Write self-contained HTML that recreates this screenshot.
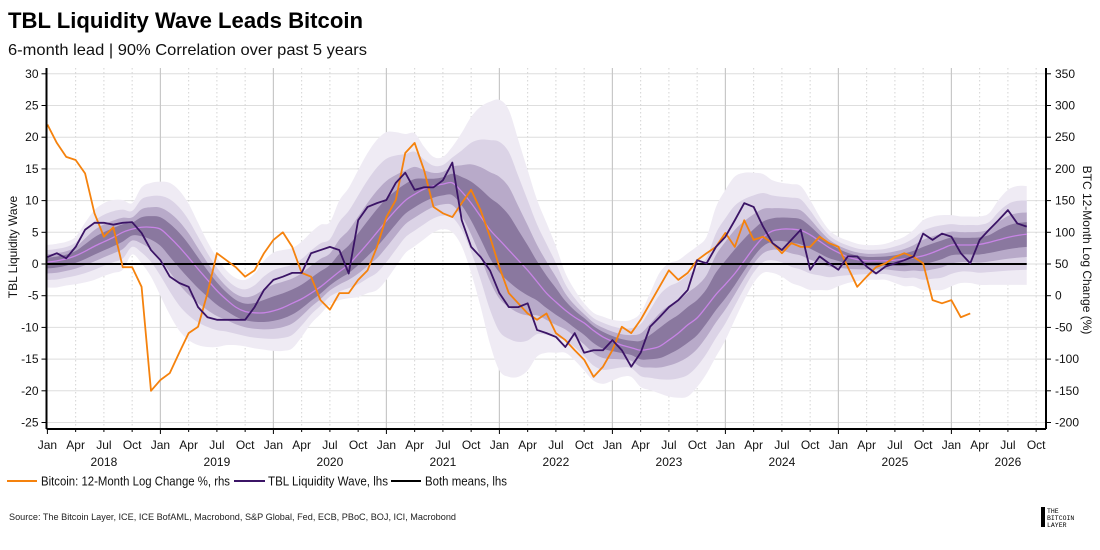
<!DOCTYPE html>
<html><head><meta charset="utf-8">
<style>
html,body{margin:0;padding:0;background:#fff;}
svg{display:block;font-family:"Liberation Sans",sans-serif;}
</style></head>
<body>
<svg id="chart" width="1100" height="550" viewBox="0 0 1100 550" xmlns="http://www.w3.org/2000/svg">
<rect width="1100" height="550" fill="#fff"/>
<text x="8" y="28" font-size="22" font-weight="bold" fill="#000" textLength="355" lengthAdjust="spacingAndGlyphs">TBL Liquidity Wave Leads Bitcoin</text>
<text x="8" y="55" font-size="16" fill="#111" textLength="359" lengthAdjust="spacingAndGlyphs">6-month lead | 90% Correlation over past 5 years</text>
<g id="grid"></g>
<g id="bands"></g>
<g id="series"></g>
<g id="axes"></g>
<text transform="translate(17,247) rotate(-90)" text-anchor="middle" font-size="12" fill="#111">TBL Liquidity Wave</text>
<text transform="translate(1083,250) rotate(90)" text-anchor="middle" font-size="12" fill="#111">BTC 12-Month Log Change (%)</text>
<g>
<line x1="7" y1="481" x2="37" y2="481" stroke="#f5820d" stroke-width="2"/>
<text x="41" y="485.5" font-size="12.5" fill="#111" textLength="189" lengthAdjust="spacingAndGlyphs">Bitcoin: 12-Month Log Change %, rhs</text>
<line x1="234" y1="481" x2="265" y2="481" stroke="#3b1466" stroke-width="2"/>
<text x="268" y="485.5" font-size="12.5" fill="#111" textLength="120" lengthAdjust="spacingAndGlyphs">TBL Liquidity Wave, lhs</text>
<line x1="391" y1="481" x2="421" y2="481" stroke="#000" stroke-width="2"/>
<text x="425" y="485.5" font-size="12.5" fill="#111" textLength="82" lengthAdjust="spacingAndGlyphs">Both means, lhs</text>
</g>
<text x="9" y="520" font-size="9.5" fill="#222" textLength="447" lengthAdjust="spacingAndGlyphs">Source: The Bitcoin Layer, ICE, ICE BofAML, Macrobond, S&amp;P Global, Fed, ECB, PBoC, BOJ, ICI, Macrobond</text>
<g>
<rect x="1041" y="507" width="4" height="20" fill="#000"/>
<text x="1047" y="513" font-size="6.5" font-family="Liberation Mono, monospace" fill="#000">THE</text>
<text x="1047" y="520" font-size="6.5" font-family="Liberation Mono, monospace" fill="#000">BITCOIN</text>
<text x="1047" y="527" font-size="6.5" font-family="Liberation Mono, monospace" fill="#000">LAYER</text>
</g>
</svg>
<script>
// ---- data (monthly, starting Jan 2018) ----
const monthLabels = ["Jan","Apr","Jul","Oct"];
const yearLabels = ["2018","2019","2020","2021","2022","2023","2024","2025","2026"];
const leftTicks = [30,25,20,15,10,5,0,-5,-10,-15,-20,-25];
const rightTicks = [350,300,250,200,150,100,50,0,-50,-100,-150,-200];
const btcStartMonth = 0;
const btcValues = [270,241,219,214,193,130,93,108,45,45,14,-150,
 -133,-122,-90,-59,-49,4,67,56,45,30,40,67,
 88,100,77,36,30,-7,-22,4,4,25,40,77,
 124,151,225,241,198,140,130,124,146,167,135,93,
 45,4,-12,-28,-38,-28,-59,-70,-86,-101,-128,-112,
 -86,-49,-59,-38,-12,14,40,25,36,56,67,77,
 99,77,119,88,93,83,67,83,77,77,93,83,
 77,45,14,30,45,51,61,67,61,51,-7,-12,
 -7,-34,-28];
const waveValues = [1.1,1.7,0.9,2.7,5.4,6.5,6.5,6.2,6.5,6.6,4.9,2.2,
 0.6,-2,-3,-3.6,-6.8,-8.4,-8.8,-8.8,-8.8,-8.8,-6.8,-4.1,
 -2.5,-2,-1.4,-1.4,1.7,2.2,2.7,2.2,-1.5,6.9,9,9.6,
 10.1,12.8,14.4,11.7,12.1,12.1,13.2,16,6.9,2.7,1.1,-1,
 -4.6,-6.8,-6.8,-6.2,-10.4,-10.9,-11.5,-13.1,-10.9,-14,-13.6,-13.6,
 -12,-13.6,-16.2,-14,-9.9,-8.4,-6.8,-5.7,-4.1,0.6,0.1,2.7,
 4.3,6.9,9.6,9,5.9,3.3,2.2,3.8,5.4,-0.9,1.2,0.1,
 -0.9,1.2,1.2,-0.4,-1.5,-0.4,0.1,0.6,1.2,4.8,3.8,4.8,
 4.3,1.7,0.1,3.8,5.4,6.9,8.5,6.4,5.9];
const bandCenter = [0.3,0.5,0.8,1.3,2,2.8,3.5,4.2,5,5.5,5.8,5.8,
 5.5,4.2,2.7,1,-0.8,-2.5,-4.2,-5.6,-6.8,-7.5,-7.7,-7.7,
 -7.4,-6.9,-6.2,-5.5,-4.6,-3.6,-2.4,-1.2,-0.1,1.5,3.2,5,
 6.8,8.5,10,11,11.8,12.3,12.6,12.8,11.4,9.6,7.5,5.4,
 3.8,2.2,0.6,-1,-2.8,-4.6,-6,-7.3,-8.4,-9.3,-10.5,-11.5,
 -12.2,-12.8,-13.2,-13.6,-13.4,-13,-12,-10.9,-9.6,-8.5,-6.7,-4.8,
 -3.2,-1.5,0.5,2.5,4.2,5.2,5.5,5.5,5.3,4.6,3.6,2.6,
 1.8,1.1,0.7,0.5,0.5,0.5,0.6,0.8,1,1.3,1.8,2.4,
 3,3,3,3.1,3.4,3.8,4.2,4.5,4.7];
const bandOuterUpper = [3,3.2,3.5,4.3,6.5,8.5,9.6,10.1,10.1,9.6,12.1,12.8,
 13,12.8,11.6,9.5,6.5,3.5,1,-1,-2.2,-2.5,-1.5,0.5,
 1.8,2.2,2.5,3.5,5,6.2,6.6,10,12,14.8,17.5,19.6,
 20.8,20.8,20.5,20.6,18.5,16.9,16.9,18.5,20.7,23.2,24.8,25.6,
 25.9,24.3,19.6,14.8,10.1,6.5,2.8,-1.4,-4.1,-6.2,-7.7,-8.3,
 -8.8,-9,-8.8,-7.7,-4.6,-1.4,0.1,0.6,1.7,2.8,4.3,9,
 11.7,13.8,14.4,14.4,14.2,13.2,12.8,12.6,12.3,10.1,7.5,5.4,
 4.3,3.7,3.2,3,3,3.2,3.7,4.3,5.4,6.9,7.5,7.7,
 7.7,7.5,7.5,7.5,8,10.1,11.7,12.3,12.3];
const bandOuterLower = [-3.7,-3.7,-3.4,-3.2,-2.9,-2.5,-1.9,-1.4,-0.9,1.5,0.1,-2,
 -5,-8,-10.5,-12,-12.8,-13.1,-13.1,-12.8,-12.8,-13,-13.3,-13.5,
 -13.7,-13.7,-13.3,-11.5,-9.4,-7.9,-6.3,-5.7,-5.4,-5.2,-4.6,-4.1,
 -2.5,-0.4,1.7,2.8,3.9,5,5.5,5,2.8,-1.4,-6.7,-12.6,
 -16.8,-17.8,-17.8,-16.8,-14.6,-14,-14,-14,-15.2,-16.8,-18.4,-18.9,
 -18.4,-17.8,-17.8,-19.4,-19.9,-20.4,-20.9,-21.1,-20.9,-19.4,-17.3,-14.6,
 -12,-8.8,-5.7,-3,-1.4,-1.4,-2,-3,-3.5,-4.1,-4.1,-4.1,
 -3.5,-3,-2.7,-2.5,-2.5,-2.5,-3,-3.5,-3.5,-4.1,-4.1,-4.1,
 -3.5,-3,-3,-3.3,-3.3,-3.3,-3.3,-3.3,-3.3];
const bandFractions = [1, 0.7, 0.45, 0.25];
const meanValue = 0;

// ---- scales ----
const NS = "http://www.w3.org/2000/svg";
const X0 = 47.4, YEARW = 113, PL = 46.5, PR = 1046, PT = 68, PB = 429;
function xM(m){ return X0 + m*YEARW/12; }
function yL(v){ return 264 - v*6.34; }
function yR(r){ return yL((r-50)/10); }
function mk(tag, attrs, parent){
  const e = document.createElementNS(NS, tag);
  for (const k in attrs) e.setAttribute(k, attrs[k]);
  parent.appendChild(e); return e;
}
function smooth(pts){
  let d = "M"+pts[0][0].toFixed(2)+","+pts[0][1].toFixed(2);
  for (let i=0;i<pts.length-1;i++){
    const p0=pts[Math.max(0,i-1)], p1=pts[i], p2=pts[i+1], p3=pts[Math.min(pts.length-1,i+2)];
    const c1=[p1[0]+(p2[0]-p0[0])/6, p1[1]+(p2[1]-p0[1])/6];
    const c2=[p2[0]-(p3[0]-p1[0])/6, p2[1]-(p3[1]-p1[1])/6];
    d += "C"+c1[0].toFixed(2)+","+c1[1].toFixed(2)+" "+c2[0].toFixed(2)+","+c2[1].toFixed(2)+" "+p2[0].toFixed(2)+","+p2[1].toFixed(2);
  }
  return d;
}
const grid = document.getElementById("grid");
const bands = document.getElementById("bands");
const series = document.getElementById("series");
const axes = document.getElementById("axes");

// grid
leftTicks.forEach(v=>{
  const l = mk("line",{x1:PL,x2:PR,y1:yL(v),y2:yL(v),stroke:"#dedede","stroke-width":1},grid);
  
  
});
for (let q=0; q<=35; q++){
  const m = q*3, x = xM(m);
  if (q>0){
    const isJan = (q%4===0);
    const l = mk("line",{x1:x,x2:x,y1:PT,y2:PB,stroke:isJan?"#c8c8c8":"#d4d4d4","stroke-width":isJan?1.2:1,"stroke-dasharray":isJan?"none":"1.5,2.5"},grid);
    
    
  }
  const t = mk("text",{x:x,y:449,"text-anchor":"middle","font-size":12,fill:"#111"},axes);
  t.textContent = monthLabels[q%4];
  
  
  mk("line",{x1:x,x2:x,y1:PB,y2:PB+(q%4===0?5:3),stroke:"#000","stroke-width":1},axes);
}
yearLabels.forEach((yr,i)=>{
  const t = mk("text",{x:xM(i*12+6),y:466,"text-anchor":"middle","font-size":12,fill:"#111"},axes);
  t.textContent = yr;
  
  
});

// bands
const bandColors = ["#efebf4","#dbd3e6","#b8aac9","#8a789f"];
bandFractions.forEach((f,k)=>{
  const up = bandCenter.map((c,i)=>[xM(i), yL(c + f*(bandOuterUpper[i]-c))]);
  const lo = bandCenter.map((c,i)=>[xM(i), yL(c + f*(bandOuterLower[i]-c))]).reverse();
  const dUp = smooth(up);
  const dLo = smooth(lo).replace(/^M/,"L");
  const p = mk("path",{d:dUp+dLo+"Z",fill:bandColors[k],stroke:"none"},bands);
  
  
});
const cl = mk("path",{d:smooth(bandCenter.map((c,i)=>[xM(i),yL(c)])),fill:"none",stroke:"#c884e6","stroke-width":1.3},bands);



// mean line
const ml = mk("line",{x1:PL,x2:xM(bandCenter.length-1),y1:yL(meanValue),y2:yL(meanValue),stroke:"#000","stroke-width":2},series);



// btc series
const btcPts = btcValues.map((v,i)=>xM(btcStartMonth+i).toFixed(2)+","+yR(v).toFixed(2)).join(" ");
const bl = mk("polyline",{points:btcPts,fill:"none",stroke:"#f5820d","stroke-width":1.8,"stroke-linejoin":"round"},series);



// wave series
const wPts = waveValues.map((v,i)=>xM(i).toFixed(2)+","+yL(v).toFixed(2)).join(" ");
const wl = mk("polyline",{points:wPts,fill:"none",stroke:"#3b1466","stroke-width":1.8,"stroke-linejoin":"round"},series);



// axes lines & ticks
mk("line",{x1:PL,x2:PL,y1:PT,y2:PB,stroke:"#000","stroke-width":2},axes);
mk("line",{x1:PR,x2:PR,y1:PT,y2:PB,stroke:"#000","stroke-width":2},axes);
mk("line",{x1:PL,x2:PR,y1:PB,y2:PB,stroke:"#000","stroke-width":2},axes);
leftTicks.forEach(v=>{
  mk("line",{x1:PL-5,x2:PL,y1:yL(v),y2:yL(v),stroke:"#000","stroke-width":1},axes);
  const t = mk("text",{x:PL-8,y:yL(v)+4,"text-anchor":"end","font-size":12,fill:"#111"},axes);
  t.textContent = v;
  
  
});
rightTicks.forEach(r=>{
  mk("line",{x1:PR,x2:PR+5,y1:yR(r),y2:yR(r),stroke:"#000","stroke-width":1},axes);
  const t = mk("text",{x:PR+9,y:yR(r)+4,"text-anchor":"start","font-size":12,fill:"#111"},axes);
  t.textContent = r;
  
  
});
</script>
</body></html>
